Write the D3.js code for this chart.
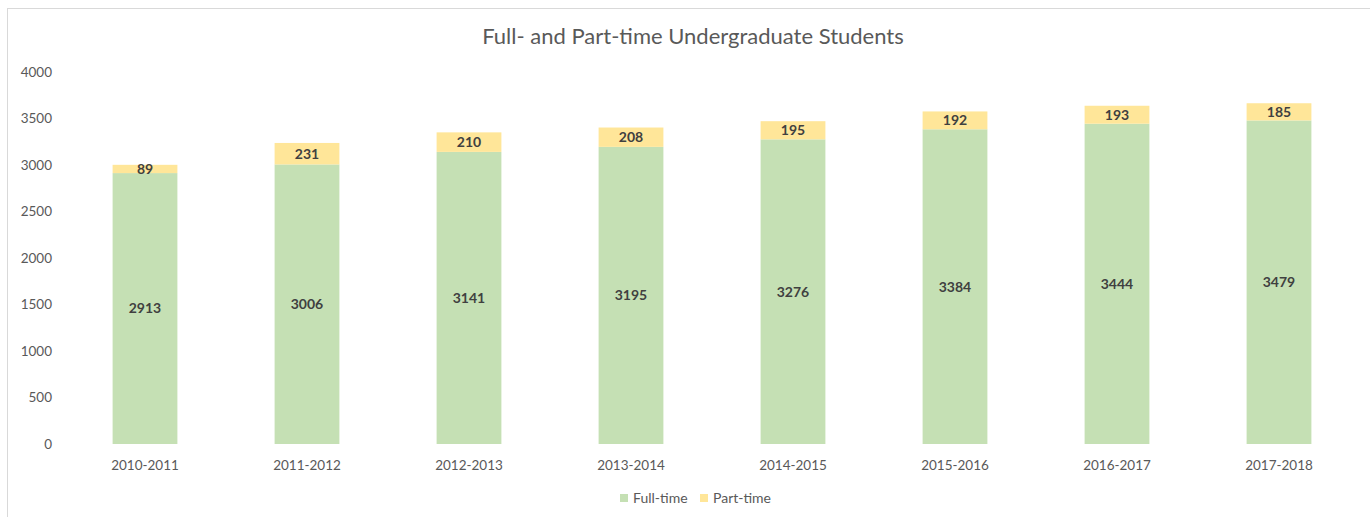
<!DOCTYPE html>
<html>
<head>
<meta charset="utf-8">
<script src="https://cdn.jsdelivr.net/npm/d3@7"></script>
<style>
  body { margin: 0; background: #fff; }
  svg { display: block; font-family: Lato, "Open Sans", sans-serif; }
</style>
</head>
<body>
<script>
// -- chart data --
var years = ["2010-2011", "2011-2012", "2012-2013", "2013-2014", "2014-2015", "2015-2016", "2016-2017", "2017-2018"];
var fullTime = [2913, 3006, 3141, 3195, 3276, 3384, 3444, 3479];
var partTime = [89, 231, 210, 208, 195, 192, 193, 185];
var yTicks = [0, 500, 1000, 1500, 2000, 2500, 3000, 3500, 4000];
var seriesNames = ["Full-time", "Part-time"];
var colors = ["#C5E0B4", "#FFE699"];

var W = 1370, H = 517;
var svg = d3.select("body").append("svg").attr("width", W).attr("height", H);

// chart frame
svg.append("rect")
  .attr("x", 7.5).attr("y", 8.5)
  .attr("width", W).attr("height", H)
  .attr("fill", "#fff").attr("stroke", "#d9d9d9");

var x = d3.scaleBand().domain(years).range([64, 1360]).paddingInner(0.6).paddingOuter(0.3);
var y = d3.scaleLinear().domain([0, 4000]).range([444, 72]);

// title
svg.append("text")
  .attr("x", 693).attr("y", 44)
  .attr("text-anchor", "middle")
  .style("font-size", "22px").style("fill", "#595959")
  .text("Full- and Part-time Undergraduate Students");

// y axis labels
svg.selectAll(".ytick").data(yTicks).enter().append("text")
  .attr("x", 52).attr("y", function(d){ return y(d); })
  .attr("dy", "0.35em").attr("text-anchor", "end")
  .style("font-size", "13.5px").style("fill", "#595959")
  .text(function(d){ return d; });

// x axis labels
svg.selectAll(".xtick").data(years).enter().append("text")
  .attr("x", function(d){ return x(d) + x.bandwidth() / 2; })
  .attr("y", 465).attr("dy", "0.35em").attr("text-anchor", "middle")
  .style("font-size", "13.5px").style("fill", "#595959")
  .text(function(d){ return d; });

// stacked bars
var rows = years.map(function(yr, i){ return { year: yr, ft: fullTime[i], pt: partTime[i] }; });
var stack = d3.stack().keys(["ft", "pt"])(rows);

stack.forEach(function(layer, li){
  var g = svg.append("g");
  g.selectAll("rect").data(layer).enter().append("rect")
    .attr("x", function(d){ return x(d.data.year); })
    .attr("width", x.bandwidth())
    .attr("y", function(d){ return y(d[1]); })
    .attr("height", function(d){ return y(d[0]) - y(d[1]); })
    .attr("fill", colors[li]);
  g.selectAll("text").data(layer).enter().append("text")
    .attr("x", function(d){ return x(d.data.year) + x.bandwidth() / 2; })
    .attr("y", function(d){ return (y(d[0]) + y(d[1])) / 2; })
    .attr("dy", "0.35em").attr("text-anchor", "middle")
    .style("font-size", "14px").style("font-weight", "bold").style("fill", "#404040")
    .text(function(d){ return d[1] - d[0]; });
});

// legend
var legendX = [620, 700];
seriesNames.forEach(function(name, i){
  svg.append("rect")
    .attr("x", legendX[i]).attr("y", 494)
    .attr("width", 8).attr("height", 8)
    .attr("fill", colors[i]);
  svg.append("text")
    .attr("x", legendX[i] + 13).attr("y", 498)
    .attr("dy", "0.35em")
    .style("font-size", "14px").style("fill", "#595959")
    .text(name);
});
</script>
</body>
</html>
